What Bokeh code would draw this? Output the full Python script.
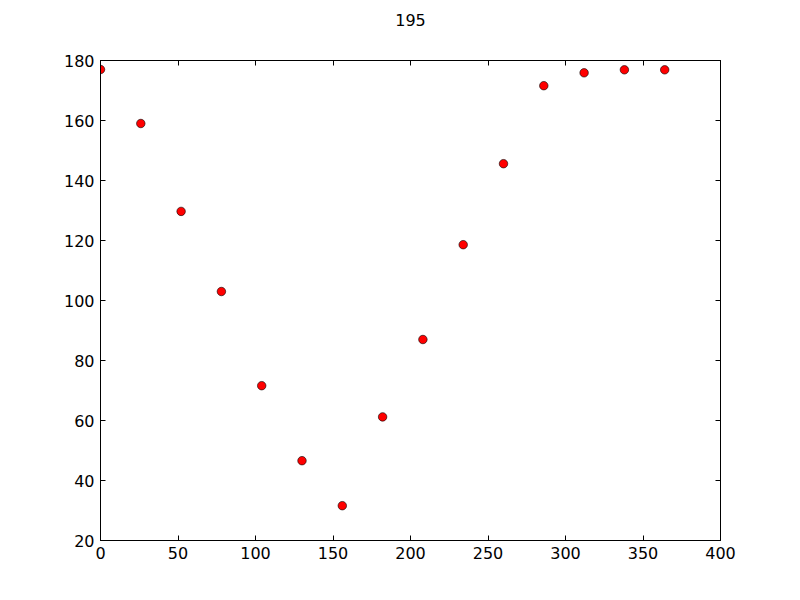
from bokeh.plotting import figure
from bokeh.models import LinearAxis, FixedTicker, Range1d
from bokeh.embed import file_html
from bokeh.resources import INLINE

x_values = [0, 26, 52, 78, 104, 130, 156, 182, 208, 234, 260, 286, 312, 338, 364]
y_values = [177, 159, 129.7, 103, 71.6, 46.6, 31.6, 61.2, 87, 118.6, 145.6, 171.6, 175.9, 176.9, 176.9]
x_ticks = [0, 50, 100, 150, 200, 250, 300, 350, 400]
y_ticks = [20, 40, 60, 80, 100, 120, 140, 160, 180]
title_text = "195"

FONT = "DejaVu Sans"
FS = "16px"

p = figure(frame_width=620, frame_height=480, output_backend="svg", toolbar_location=None,
           x_range=Range1d(0, 400), y_range=Range1d(20, 180),
           min_border_left=100, min_border_right=64, min_border_top=60, min_border_bottom=44,
           x_axis_location=None, y_axis_location=None)
p.grid.visible = False
p.outline_line_color = "black"
p.outline_line_width = 1
p.background_fill_color = "white"
p.border_fill_color = "white"

def style(ax, labels=True):
    ax.major_tick_in = 5
    ax.major_tick_out = 0
    ax.minor_tick_in = 0
    ax.minor_tick_out = 0
    ax.axis_line_color = "black"
    ax.major_tick_line_color = "black"
    ax.major_label_text_font = FONT
    ax.major_label_text_font_size = FS
    ax.major_label_text_color = "black"
    ax.major_label_standoff = 6
    if not labels:
        ax.major_label_text_font_size = "0px"
        ax.major_label_text_alpha = 0
        ax.major_label_standoff = 0

xb = LinearAxis(ticker=FixedTicker(ticks=x_ticks)); style(xb)
yl = LinearAxis(ticker=FixedTicker(ticks=y_ticks)); style(yl)
xt = LinearAxis(ticker=FixedTicker(ticks=x_ticks)); style(xt, False)
yr = LinearAxis(ticker=FixedTicker(ticks=y_ticks)); style(yr, False)

# chart title shown as the top axis label (centred over the frame)
xt.axis_label = title_text
xt.axis_label_text_font = FONT
xt.axis_label_text_font_size = FS
xt.axis_label_text_font_style = "normal"
xt.axis_label_text_color = "black"
xt.axis_label_standoff = 35

p.add_layout(xb, "below")
p.add_layout(yl, "left")
p.add_layout(xt, "above")
p.add_layout(yr, "right")

p.scatter(x_values, y_values, size=8.5, fill_color="red", line_color="black", line_width=0.6)

open("out.html", "w").write(file_html(p, INLINE))
